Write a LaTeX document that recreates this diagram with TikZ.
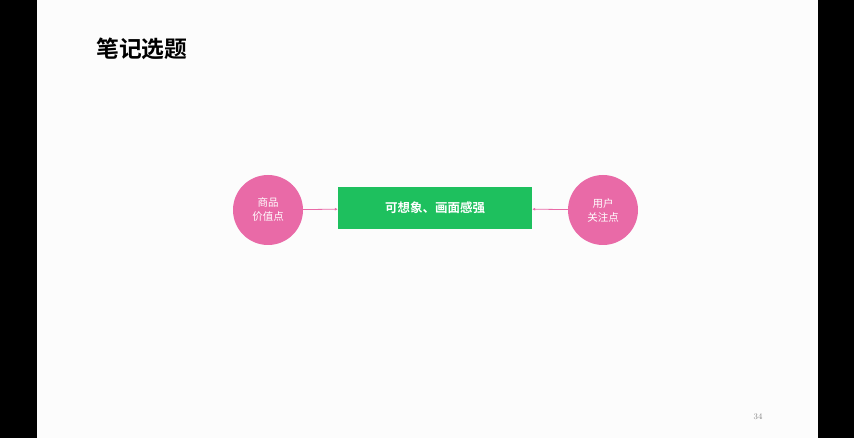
\documentclass[tikz,border=0pt]{standalone}
\usepackage{fontspec}
\newfontfamily\cjk{Noto Sans CJK SC}[BoldFont={* Bold}]
\usepackage{tikz}
\usetikzlibrary{arrows.meta}
\usetikzlibrary{shapes}

\definecolor{rosepink}{RGB}{233,106,167}
\definecolor{leafgreen}{RGB}{30,192,94}

\tikzset{
  pointcircle/.style={circle, fill=rosepink, minimum size=70pt, inner sep=0pt,
    text=white, align=center, font=\cjk\fontsize{10.5}{14}\selectfont},
  topicbox/.style={rectangle, fill=leafgreen, minimum width=194pt, minimum height=42pt,
    inner sep=0pt, text=white, font=\cjk\bfseries\fontsize{12.5}{15}\selectfont},
  pointarrow/.style={draw=rosepink, line width=0.8pt, -{Latex[length=3pt,width=3pt]}},
}

\begin{document}
\begin{tikzpicture}[x=1pt, y=-1pt]
    \useasboundingbox (0, 0) rectangle (854, 438);
    \fill[black] (0, 0) rectangle (854, 438);
    \fill[white!99!black] (37, 0) rectangle (818, 438);
    \node[anchor=west, inner sep=0pt, font=\cjk\bfseries\fontsize{22.8}{24}\selectfont] (title) at (96, 49) {笔记选题};
    \node[pointcircle] (goods) at (268, 210) {商品\\价值点};
    \node[topicbox] (topic) at (435, 208) {可想象、画面感强};
    \node[pointcircle] (users) at (603, 210) {用户\\关注点};
    \draw[pointarrow] (goods) -- (topic);
    \draw[pointarrow] (users) -- (topic);
    \node[font=\fontsize{8.5}{9}\selectfont, text=gray] (page) at (758, 417) {34};
  \end{tikzpicture}
\end{document}
